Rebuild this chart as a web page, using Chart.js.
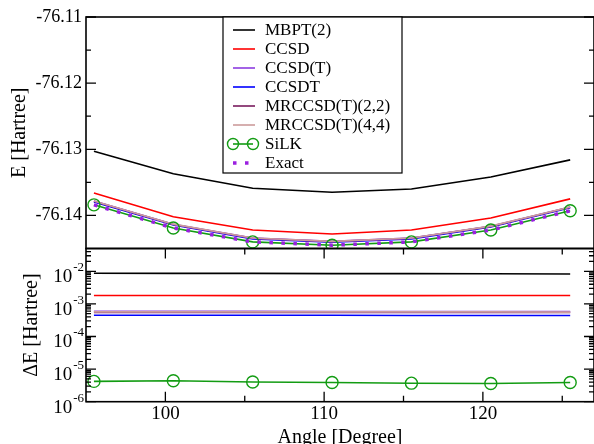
<!DOCTYPE html>
<html>
<head>
<meta charset="utf-8">
<script src="https://cdn.jsdelivr.net/npm/chart.js@4.4.1/dist/chart.umd.min.js"></script>
<style>
  html, body { margin: 0; padding: 0; background: #fff; overflow: hidden; width: 594px; height: 444px; }
  #botBox { position: absolute; left: 0; top: 240px; width: 594px; height: 210px; }
  #topBox { position: absolute; left: 0; top: 0; width: 594px; height: 250px; }
</style>
</head>
<body>
<div id="botBox"><canvas id="deltaChart" width="594" height="210"></canvas></div>
<div id="topBox"><canvas id="energyChart" width="594" height="250"></canvas></div>

<script>
// -------------------------------
// DATA
// -------------------------------
const angles = [95.5, 100.5, 105.5, 110.5, 115.5, 120.5, 125.5];

// total energies [Hartree]
const eMbpt2 = [-76.1303, -76.1337, -76.1359, -76.1365, -76.1360, -76.1342, -76.1316];
const eCcsd  = [-76.1366, -76.1402, -76.1422, -76.1428, -76.1422, -76.1404, -76.1375];
const eCcsdT = [-76.13783, -76.14133, -76.14343, -76.14393, -76.14343, -76.14163, -76.13873];
const eCcsdt = [-76.13795, -76.14145, -76.14355, -76.14405, -76.14355, -76.14175, -76.13885];
const eMr22  = [-76.13786, -76.14136, -76.14346, -76.14396, -76.14346, -76.14166, -76.13876];
const eMr44  = [-76.13782, -76.14132, -76.14342, -76.14392, -76.14342, -76.14162, -76.13872];
const eSilk  = [-76.13840, -76.14190, -76.14400, -76.14450, -76.14400, -76.14220, -76.13930];
const eExact = [-76.138404, -76.141904, -76.144004, -76.144504, -76.144004, -76.142204, -76.139304];

// deviation from exact [Hartree]
const dMbpt2 = [0.0087, 0.0086, 0.0086, 0.0085, 0.0085, 0.0084, 0.0083];
const dCcsd  = [0.00180, 0.00180, 0.00179, 0.00179, 0.00179, 0.00180, 0.00180];
const dCcsdT = [0.00059, 0.00059, 0.00059, 0.00058, 0.00058, 0.00058, 0.00058];
const dCcsdt = [0.00045, 0.00045, 0.00045, 0.00045, 0.00044, 0.00044, 0.00044];
const dMr22  = [0.00055, 0.00055, 0.00055, 0.00055, 0.00055, 0.00055, 0.00055];
const dMr44  = [0.00057, 0.00057, 0.00057, 0.00057, 0.00057, 0.00057, 0.00056];
const dSilk  = [4.2e-6, 4.4e-6, 4.0e-6, 3.9e-6, 3.7e-6, 3.6e-6, 3.9e-6];

// axis ticks
const xMajorTicks = [100, 110, 120];
const xMinorTicks = [105, 115, 125];
const eMajorTicks = [-76.11, -76.12, -76.13, -76.14];
const eMinorTicks = [-76.115, -76.125, -76.135];
const dMajorTicks = [1e-6, 1e-5, 1e-4, 1e-3, 1e-2];
const dMinorTicks = [
  2e-6, 3e-6, 4e-6, 5e-6, 6e-6, 7e-6, 8e-6, 9e-6,
  2e-5, 3e-5, 4e-5, 5e-5, 6e-5, 7e-5, 8e-5, 9e-5,
  2e-4, 3e-4, 4e-4, 5e-4, 6e-4, 7e-4, 8e-4, 9e-4,
  2e-3, 3e-3, 4e-3, 5e-3, 6e-3, 7e-3, 8e-3, 9e-3,
  2e-2, 3e-2, 4e-2
];
const dExponents = ['-6', '-5', '-4', '-3', '-2'];

const SERIF = "'Liberation Serif', 'Times New Roman', serif";

const toPoints = vals => angles.map((a, i) => ({ x: a, y: vals[i] }));

// -------------------------------
// PLUGINS
// -------------------------------
// frame with inward ticks (xmgrace style)
const frameTicks = {
  id: 'frameTicks',
  afterDatasetsDraw(chart, args, opts) {
    const { ctx, chartArea: a, scales } = chart;
    const xs = scales.x, ys = scales.y;
    ctx.save();
    ctx.strokeStyle = '#000';
    ctx.lineWidth = 1.3;
    ctx.beginPath();
    const xTick = (v, len) => {
      const px = xs.getPixelForValue(v);
      if (opts.xTicks) {
        ctx.moveTo(px, a.bottom); ctx.lineTo(px, a.bottom - len);
        ctx.moveTo(px, a.top); ctx.lineTo(px, a.top + len);
      }
    };
    const yTick = (v, len) => {
      const py = ys.getPixelForValue(v);
      ctx.moveTo(a.left, py); ctx.lineTo(a.left + len, py);
      ctx.moveTo(a.right, py); ctx.lineTo(a.right - len, py);
    };
    opts.xMajor.forEach(v => xTick(v, 10));
    opts.xMinor.forEach(v => xTick(v, 6));
    opts.yMajor.forEach(v => yTick(v, 10));
    opts.yMinor.forEach(v => yTick(v, 5));
    ctx.stroke();
    ctx.lineWidth = 1.6;
    ctx.strokeRect(a.left, a.top, a.right - a.left, a.bottom - a.top);
    ctx.restore();
  }
};

// 10^n labels for the log axis
const powerLabels = {
  id: 'powerLabels',
  afterDraw(chart, args, opts) {
    if (!opts.values) return;
    const { ctx } = chart;
    const ys = chart.scales.y;
    ctx.save();
    ctx.fillStyle = '#000';
    ctx.textAlign = 'right';
    ctx.textBaseline = 'alphabetic';
    opts.values.forEach((v, i) => {
      const py = ys.getPixelForValue(v);
      ctx.font = '13px ' + SERIF;
      const expW = ctx.measureText(opts.exponents[i]).width;
      ctx.fillText(opts.exponents[i], 84, py);
      ctx.font = '19px ' + SERIF;
      ctx.fillText('10', 84 - expW - 1, py + 11);
    });
    ctx.restore();
  }
};

// boxed legend inside the top panel
const boxLegend = {
  id: 'boxLegend',
  afterDraw(chart, args, opts) {
    if (!opts.display) return;
    const { ctx } = chart;
    ctx.save();
    ctx.fillStyle = '#fff';
    ctx.fillRect(opts.left, opts.top, opts.width, opts.height);
    ctx.strokeStyle = '#000';
    ctx.lineWidth = 1.2;
    ctx.strokeRect(opts.left, opts.top, opts.width, opts.height);

    const x0 = opts.left + 10, x1 = opts.left + 32;
    chart.data.datasets.forEach((ds, i) => {
      const cy = opts.firstRow + i * opts.rowStep;
      ctx.strokeStyle = ds.borderColor;
      ctx.lineWidth = ds.borderWidth;
      ctx.setLineDash(ds.borderDash || []);
      ctx.beginPath();
      ctx.moveTo(x0, cy);
      ctx.lineTo(ds.pointRadius ? x1 - 2 : x1, cy);
      ctx.stroke();
      ctx.setLineDash([]);
      if (ds.pointRadius) {
        ctx.lineWidth = ds.pointBorderWidth;
        ctx.strokeStyle = ds.pointBorderColor;
        [x0, x1 - 2].forEach(px => {
          ctx.beginPath();
          ctx.arc(px, cy, 5.5, 0, Math.PI * 2);
          ctx.stroke();
        });
      }
      ctx.fillStyle = '#000';
      ctx.font = '17px ' + SERIF;
      ctx.textAlign = 'left';
      ctx.textBaseline = 'middle';
      ctx.fillText(ds.label, opts.left + 42, cy + 1);
    });
    ctx.restore();
  }
};

// no extra room for half-labels at the ends of an axis
const noEndPadding = s => {
  s.paddingTop = 0; s.paddingBottom = 0;
  s.paddingLeft = 0; s.paddingRight = 0;
};

// -------------------------------
// SERIES STYLES
// -------------------------------
function seriesSet(vals, withExact) {
  const sets = [
    { label: 'MBPT(2)', data: toPoints(vals[0]), borderColor: '#000000', order: 8 },
    { label: 'CCSD', data: toPoints(vals[1]), borderColor: '#ff0000', order: 7 },
    { label: 'CCSD(T)', data: toPoints(vals[2]), borderColor: '#8c3ce0', order: 4 },
    { label: 'CCSDT', data: toPoints(vals[3]), borderColor: '#0000ff', order: 6 },
    { label: 'MRCCSD(T)(2,2)', data: toPoints(vals[4]), borderColor: '#7a1c5e', order: 5 },
    { label: 'MRCCSD(T)(4,4)', data: toPoints(vals[5]), borderColor: '#cc9c9c', order: 3 },
    { label: 'SiLK', data: toPoints(vals[6]), borderColor: '#139c13', order: 2,
      pointRadius: 6, pointBorderWidth: 1.4, pointBorderColor: '#139c13', pointBackgroundColor: 'rgba(0,0,0,0)' }
  ];
  if (withExact) {
    sets.push({ label: 'Exact', data: toPoints(vals[7]), borderColor: '#9a1fe0', order: 1,
      borderWidth: 3.5, borderDash: [3.5, 8.5], borderCapStyle: 'butt' });
  }
  sets.forEach(s => {
    if (s.borderWidth === undefined) s.borderWidth = 1.6;
    if (s.pointRadius === undefined) s.pointRadius = 0;
    s.fill = false;
    s.tension = 0;
  });
  return sets;
}

// -------------------------------
// TOP PANEL: ENERGIES
// -------------------------------
new Chart(document.getElementById('energyChart'), {
  type: 'line',
  data: { datasets: seriesSet([eMbpt2, eCcsd, eCcsdT, eCcsdt, eMr22, eMr44, eSilk, eExact], true) },
  options: {
    responsive: false,
    animation: false,
    layout: { autoPadding: false, padding: { top: 17, bottom: 1.5, left: 0, right: 0 } },
    plugins: {
      legend: { display: false },
      tooltip: { enabled: false },
      frameTicks: { xTicks: false, xMajor: [], xMinor: [], yMajor: eMajorTicks, yMinor: eMinorTicks },
      boxLegend: { display: true, left: 223, top: 17, width: 179, height: 156, firstRow: 30, rowStep: 19 }
    },
    scales: {
      x: { type: 'linear', min: 95, max: 127, display: false },
      y: {
        min: -76.145, max: -76.11,
        afterFit: s => { s.width = 86; noEndPadding(s); },
        grid: { display: false, drawTicks: false },
        border: { display: false },
        ticks: {
          stepSize: 0.005, padding: 4, color: '#000', autoSkip: false,
          font: { family: SERIF, size: 18 },
          callback: v => Math.abs(v * 100 - Math.round(v * 100)) < 1e-6 ? v.toFixed(2) : ''
        },
        title: { display: true, text: 'E [Hartree]', color: '#000',
          font: { family: SERIF, size: 20 }, padding: { top: 8, bottom: 0 } }
      }
    }
  },
  plugins: [frameTicks, boxLegend]
});

// -------------------------------
// BOTTOM PANEL: DEVIATIONS
// -------------------------------
new Chart(document.getElementById('deltaChart'), {
  type: 'line',
  data: { datasets: seriesSet([dMbpt2, dCcsd, dCcsdT, dCcsdt, dMr22, dMr44, dSilk], false) },
  options: {
    responsive: false,
    animation: false,
    layout: { autoPadding: false, padding: { top: 8.5, bottom: 0, left: 0, right: 0 } },
    plugins: {
      legend: { display: false },
      tooltip: { enabled: false },
      frameTicks: { xTicks: true, xMajor: xMajorTicks, xMinor: xMinorTicks, yMajor: dMajorTicks, yMinor: dMinorTicks },
      powerLabels: { values: dMajorTicks, exponents: dExponents }
    },
    scales: {
      x: {
        type: 'linear', min: 95, max: 127,
        afterFit: s => { s.height = 48.3; noEndPadding(s); },
        grid: { display: false, drawTicks: false },
        border: { display: false },
        ticks: {
          stepSize: 5, padding: 1, color: '#000', autoSkip: false, maxRotation: 0,
          font: { family: SERIF, size: 19 },
          callback: v => xMajorTicks.includes(v) ? String(v) : ''
        },
        title: { display: true, text: 'Angle [Degree]', color: '#000',
          font: { family: SERIF, size: 20 }, padding: { top: 0, bottom: 0 } }
      },
      y: {
        type: 'logarithmic', min: 1e-6, max: 0.05,
        afterFit: s => { s.width = 86; noEndPadding(s); },
        grid: { display: false, drawTicks: false },
        border: { display: false },
        ticks: { callback: () => '' },
        title: { display: true, text: 'ΔE [Hartree]', color: '#000',
          font: { family: SERIF, size: 20 }, padding: { top: 20, bottom: 0 } }
      }
    }
  },
  plugins: [frameTicks, powerLabels]
});
</script>
</body>
</html>
